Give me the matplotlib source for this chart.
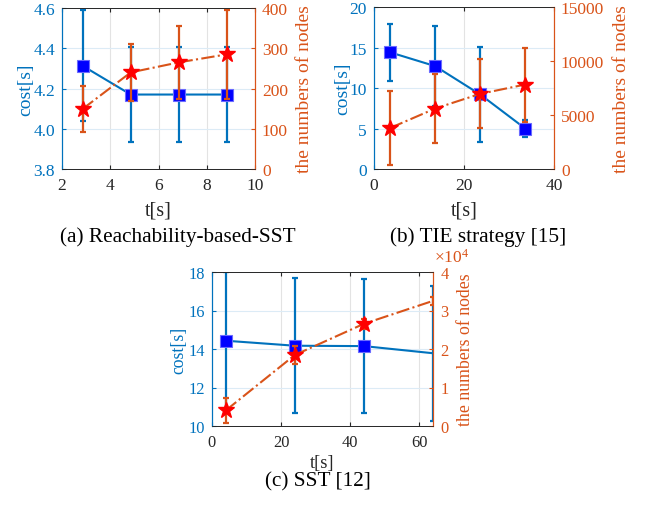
import matplotlib
matplotlib.use("Agg")
import matplotlib.pyplot as plt
from matplotlib.ticker import ScalarFormatter

plt.rcParams["font.family"] = ["Liberation Serif", "DejaVu Serif"]
plt.rcParams["mathtext.fontset"] = "custom"
plt.rcParams["mathtext.rm"] = "Liberation Serif"
plt.rcParams["mathtext.it"] = "Liberation Serif:italic"

BLUE = "#0072BD"
ORANGE = "#D95319"
DARK = "#262626"

# (a) Reachability-based-SST
t_a = [2.85, 4.85, 6.85, 8.85]
cost_a = [4.313, 4.17, 4.17, 4.17]
cost_err_a = [0.275, 0.234, 0.234, 0.234]
nodes_a = [149, 240, 265, 285]
nodes_err_a = [57, 71, 91, 111]

# (b) TIE strategy [15]
t_b = [3.6, 13.6, 23.6, 33.6]
cost_b = [14.4, 12.7, 9.2, 5.0]
cost_err_b = [3.5, 4.9, 5.9, 1.0]
nodes_b = [3800, 5600, 6960, 7820]
nodes_err_b = [3390, 3170, 3200, 3430]

# (c) SST [12]
t_c = [4, 24, 44, 64]
cost_c = [14.43, 14.17, 14.15, 13.78]
cost_err_c = [3.55, 3.5, 3.5, 3.5]
nodes_c = [4050, 18450, 26550, 32500]
nodes_err_c = [3350, 2300, 1350, 1000]

CAPTION_FS = 15.3

fig = plt.figure(figsize=(6.46, 5.06), dpi=100)


def panel(rect, t, cost, cost_err, nodes, nodes_err, xlim, xticks,
          ylim, yticks, ylim2, yticks2, caption, cap_xy, marks=None,
          tick_fs=12.5, label_fs=14, xpad=5, lpad=-1, rpad=6):
    ax = fig.add_axes(rect)
    ax2 = ax.twinx()

    ax.errorbar(t, cost, yerr=cost_err, fmt="none", ecolor=BLUE,
                elinewidth=1.6, capsize=2.5, capthick=1.6, zorder=2)
    ax.plot(t, cost, color=BLUE, lw=1.5, marker="s", ms=8.5,
            mfc="#0000FF", mec="#6A6AFF", mew=0.8, markevery=marks, zorder=3)

    ax2.errorbar(t, nodes, yerr=nodes_err, fmt="none", ecolor=ORANGE,
                 elinewidth=1.6, capsize=2.5, capthick=1.6, zorder=2)
    ax2.plot(t, nodes, color=ORANGE, lw=1.5, ls="-.", marker="*", ms=12,
             mfc="#FF0000", mec="#FF0000", markevery=marks, zorder=3)

    ax.set_xlim(*xlim)
    ax.set_xticks(xticks)
    ax.set_ylim(*ylim)
    ax.set_yticks(yticks)
    ax2.set_ylim(*ylim2)
    ax2.set_yticks(yticks2)

    ax.grid(axis="x", color="#E3E3E3", lw=0.8)
    ax.grid(axis="y", color="#DCEBF6", lw=0.8)
    ax.set_axisbelow(True)

    for a in (ax, ax2):
        for s in ("top", "bottom"):
            a.spines[s].set_color(DARK)
            a.spines[s].set_linewidth(0.6)
        a.spines["left"].set_color(BLUE)
        a.spines["right"].set_color(ORANGE)

    ax.tick_params(axis="x", direction="in", top=True, length=3,
                   colors=DARK, labelsize=tick_fs, pad=6)
    ax.tick_params(axis="y", direction="in", length=3, colors=BLUE,
                   labelsize=tick_fs, pad=5)
    ax2.tick_params(axis="y", direction="in", length=3, colors=ORANGE,
                    labelsize=tick_fs, pad=5)

    ax.set_xlabel("t[s]", fontsize=label_fs + 0.5, color=DARK, labelpad=xpad)
    ax.set_ylabel("cost[s]", fontsize=label_fs, color=BLUE, labelpad=lpad)
    ax2.set_ylabel("the numbers of nodes", fontsize=label_fs, color=ORANGE,
                   labelpad=rpad)

    fig.text(cap_xy[0], cap_xy[1], caption, fontsize=CAPTION_FS,
             color="black", ha="center", va="center")
    return ax, ax2


panel([62 / 646, 1 - 170 / 506, 193 / 646, 161 / 506],
      t_a, cost_a, cost_err_a, nodes_a, nodes_err_a,
      (2, 10), [2, 4, 6, 8, 10], (3.8, 4.6), [3.8, 4, 4.2, 4.4, 4.6],
      (0, 400), [0, 100, 200, 300, 400],
      "(a) Reachability-based-SST", (178 / 646, 1 - 237 / 506))

panel([374 / 646, 1 - 170 / 506, 180 / 646, 162 / 506],
      t_b, cost_b, cost_err_b, nodes_b, nodes_err_b,
      (0, 40), [0, 20, 40], (0, 20), [0, 5, 10, 15, 20],
      (0, 15000), [0, 5000, 10000, 15000],
      "(b) TIE strategy [15]", (478 / 646, 1 - 237 / 506))

ax_c, ax_c2 = panel([212 / 646, 1 - 427 / 506, 221 / 646, 154 / 506],
                    t_c, cost_c, cost_err_c, nodes_c, nodes_err_c,
                    (0, 64), [0, 20, 40, 60], (10, 18), [10, 12, 14, 16, 18],
                    (0, 40000), [0, 10000, 20000, 30000, 40000],
                    "(c) SST [12]", (318 / 646, 1 - 482 / 506),
                    marks=[0, 1, 2], tick_fs=11.8, label_fs=12.8,
                    xpad=2.5, lpad=1, rpad=5)

# node axis of panel (c) in units of 10^4, exponent written above the axis
fmt = ScalarFormatter(useMathText=True)
fmt.set_powerlimits((0, 0))
ax_c2.yaxis.set_major_formatter(fmt)
ax_c2.yaxis.get_offset_text().set_visible(False)
ax_c2.text(1.005, 1.04, r"$\times10^{4}$", transform=ax_c2.transAxes,
           ha="left", va="bottom", fontsize=12.5, color=ORANGE)

fig.savefig("out.png", dpi=100)
